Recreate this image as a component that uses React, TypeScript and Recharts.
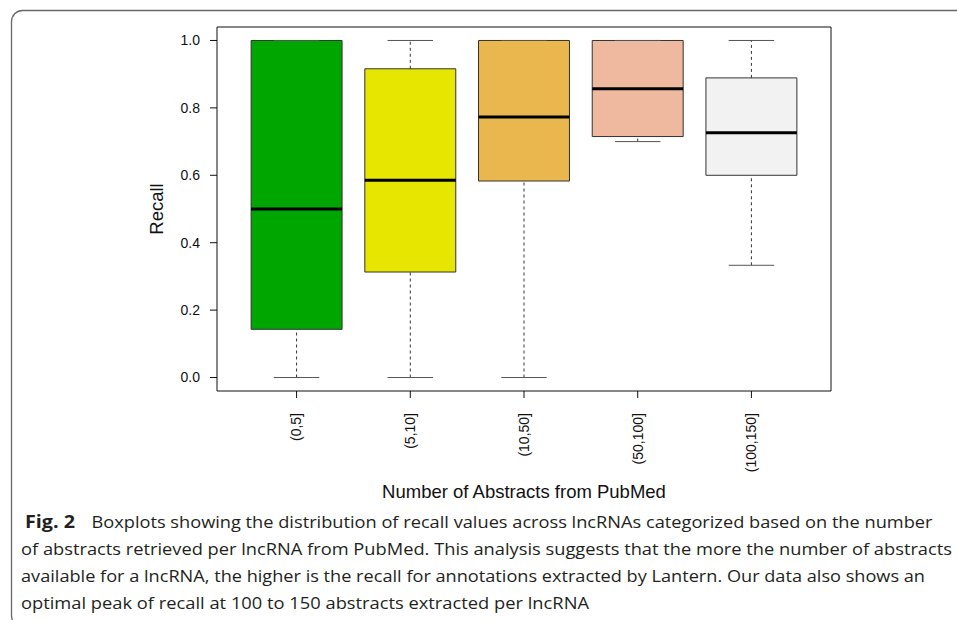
// Boxplots of recall per lncRNA, grouped by number of PubMed abstracts.
// Boxes, whiskers and medians are drawn as reference shapes in data units,
// so the chart's own scales place every mark.

import { ComposedChart, XAxis, YAxis, ReferenceArea, ReferenceLine } from "recharts";

const categories = ["(0,5]", "(5,10]", "(10,50]", "(50,100]", "(100,150]"];
const lowWhisker = [0.0, 0.0, 0.0, 0.7, 0.333];
const lowerQuartile = [0.143, 0.313, 0.583, 0.715, 0.6];
const medians = [0.5, 0.585, 0.773, 0.857, 0.726];
const upperQuartile = [1.0, 0.916, 1.0, 1.0, 0.889];
const highWhisker = [1.0, 1.0, 1.0, 1.0, 1.0];
const boxColors = ["#00A600", "#E6E600", "#EAB64E", "#EEB99F", "#F2F2F2"];
const yTicks = [0, 0.2, 0.4, 0.6, 0.8, 1.0];

const captionLines = [
  "of abstracts retrieved per lncRNA from PubMed. This analysis suggests that the more the number of abstracts",
  "available for a lncRNA, the higher is the recall for annotations extracted by Lantern. Our data also shows an",
  "optimal peak of recall at 100 to 150 abstracts extracted per lncRNA",
];

const data = categories.map((name, i) => ({
  pos: i + 1,
  name,
  low: lowWhisker[i],
  q1: lowerQuartile[i],
  median: medians[i],
  q3: upperQuartile[i],
  high: highWhisker[i],
}));

const AXIS_FONT = "'Liberation Sans', Arial, sans-serif";
const HALF_BOX = 0.4;
const HALF_CAP = 0.2;

function CategoryTick(props: any) {
  const { x, y, payload } = props;
  const label = categories[Math.round(payload.value) - 1] ?? "";
  return (
    <g transform={`translate(${x},${y})`}>
      <text
        transform="rotate(-90)"
        textAnchor="end"
        dy="0.35em"
        fontSize={14}
        fontFamily={AXIS_FONT}
        fill="#111"
      >
        {label}
      </text>
    </g>
  );
}

export default function App() {
  return (
    <div style={{ position: "absolute", left: 0, top: 0, width: 957, height: 620, background: "#fff", overflow: "hidden" }}>
      <ComposedChart
        width={957}
        height={620}
        data={data}
        margin={{ top: 27, right: 126, bottom: 189, left: 0 }}
      >
        <XAxis
          type="number"
          dataKey="pos"
          domain={[0.3, 5.7]}
          ticks={[1, 2, 3, 4, 5]}
          allowDataOverflow
          axisLine={false}
          tickLine={{ stroke: "#111" }}
          tickSize={7}
          tickMargin={15}
          height={40}
          tick={<CategoryTick />}
        />
        <YAxis
          type="number"
          domain={[-0.04, 1.04]}
          ticks={yTicks}
          allowDataOverflow
          width={217}
          axisLine={false}
          tickLine={{ stroke: "#111" }}
          tickSize={7}
          tickMargin={10}
          tickFormatter={(v: number) => v.toFixed(1)}
          tick={{ fill: "#111", fontSize: 14, fontFamily: AXIS_FONT }}
        />

        {data.map((d, i) => (
          <ReferenceArea
            key={`box-${d.name}`}
            x1={d.pos - HALF_BOX}
            x2={d.pos + HALF_BOX}
            y1={d.q1}
            y2={d.q3}
            fill={boxColors[i]}
            fillOpacity={1}
            stroke="#333"
            strokeWidth={1}
            ifOverflow="visible"
          />
        ))}

        {data.map((d) => (
          <ReferenceLine
            key={`wl-${d.name}`}
            segment={[{ x: d.pos, y: d.low }, { x: d.pos, y: d.q1 }]}
            stroke="#333"
            strokeDasharray="3 3"
            ifOverflow="visible"
          />
        ))}
        {data.map((d) => (
          <ReferenceLine
            key={`wh-${d.name}`}
            segment={[{ x: d.pos, y: d.q3 }, { x: d.pos, y: d.high }]}
            stroke="#333"
            strokeDasharray="3 3"
            ifOverflow="visible"
          />
        ))}
        {data.map((d) => (
          <ReferenceLine
            key={`cl-${d.name}`}
            segment={[{ x: d.pos - HALF_CAP, y: d.low }, { x: d.pos + HALF_CAP, y: d.low }]}
            stroke="#555"
            ifOverflow="visible"
          />
        ))}
        {data.map((d) => (
          <ReferenceLine
            key={`ch-${d.name}`}
            segment={[{ x: d.pos - HALF_CAP, y: d.high }, { x: d.pos + HALF_CAP, y: d.high }]}
            stroke="#555"
            ifOverflow="visible"
          />
        ))}
        {data.map((d) => (
          <ReferenceLine
            key={`md-${d.name}`}
            segment={[{ x: d.pos - HALF_BOX, y: d.median }, { x: d.pos + HALF_BOX, y: d.median }]}
            stroke="#000"
            strokeWidth={3}
            ifOverflow="visible"
          />
        ))}

        {/* plot frame */}
        <ReferenceArea
          x1={0.3}
          x2={5.7}
          y1={-0.04}
          y2={1.04}
          fill="none"
          stroke="#111"
          strokeWidth={1}
          ifOverflow="visible"
        />
      </ComposedChart>

      <svg
        width={957}
        height={620}
        style={{ position: "absolute", left: 0, top: 0, pointerEvents: "none" }}
      >
        <rect x={11.5} y={10.5} width={1000} height={616} rx={11} fill="none" stroke="#666" strokeWidth={1.3} />

        <text
          transform="translate(163,209) rotate(-90)"
          textAnchor="middle"
          fontSize={18.5}
          fontFamily={AXIS_FONT}
          fill="#111"
        >
          Recall
        </text>
        <text x={524} y={498} textAnchor="middle" fontSize={18.5} fontFamily={AXIS_FONT} fill="#111">
          Number of Abstracts from PubMed
        </text>

        <g fontFamily="'Open Sans', 'Noto Sans', sans-serif" fontSize={16.5} fontWeight={400} fill="#231f20">
          <text x={25} y={528} fontWeight={700} fontSize={18} textLength={50} lengthAdjust="spacingAndGlyphs">
            Fig. 2
          </text>
          <text x={91.5} y={528} textLength={841} lengthAdjust="spacingAndGlyphs">
            Boxplots showing the distribution of recall values across lncRNAs categorized based on the number
          </text>
          <text x={21} y={555} textLength={931} lengthAdjust="spacingAndGlyphs">
            {captionLines[0]}
          </text>
          <text x={21} y={582} textLength={904} lengthAdjust="spacingAndGlyphs">
            {captionLines[1]}
          </text>
          <text x={21} y={609} textLength={568} lengthAdjust="spacingAndGlyphs">
            {captionLines[2]}
          </text>
        </g>
      </svg>
    </div>
  );
}
